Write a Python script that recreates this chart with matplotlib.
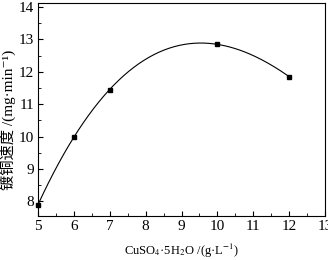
import numpy as np
import matplotlib
matplotlib.use('Agg')
import matplotlib.pyplot as plt
from matplotlib.ticker import MultipleLocator

plt.rcParams['font.family'] = ['Liberation Serif', 'Noto Sans CJK SC', 'DejaVu Serif']
plt.rcParams['mathtext.fontset'] = 'stix'

# CuSO4·5H2O concentration (g/L) vs copper plating rate (mg/min)
conc = [5, 6, 7, 10, 12]
rate = [7.9, 10.0, 11.45, 12.85, 11.85]

fig = plt.figure(figsize=(3.28, 2.6), dpi=100)
ax = fig.add_axes([0.116, 0.169, 0.875, 0.819])

# smooth fitted curve
coef = np.polyfit(conc, rate, 3)
xs = np.linspace(5, 12, 200)
ax.plot(xs, np.polyval(coef, xs), color='black', lw=0.8)
ax.plot(conc, rate, 's', color='black', ms=3.5, clip_on=False)

ax.set_xlim(5, 13)
ax.set_ylim(7.55, 14.12)
ax.xaxis.set_major_locator(MultipleLocator(1))
ax.xaxis.set_minor_locator(MultipleLocator(0.5))
ax.yaxis.set_major_locator(MultipleLocator(1))
ax.yaxis.set_minor_locator(MultipleLocator(0.5))
ax.tick_params(which='both', direction='in', top=False, right=False, labelsize=11, pad=3)
ax.tick_params(which='major', length=3.5)
ax.tick_params(which='minor', length=2)
for s in ax.spines.values():
    s.set_linewidth(0.8)

ax.set_xlabel('CuSO$_4$·5H$_2$O /(g·L$^{-1}$)', fontsize=9, labelpad=6)
ax.set_ylabel('镀铜速度 /(mg·min⁻¹)', fontsize=11)
ax.yaxis.set_label_coords(-0.078, 0.45)

plt.savefig('out.png', dpi=100)
